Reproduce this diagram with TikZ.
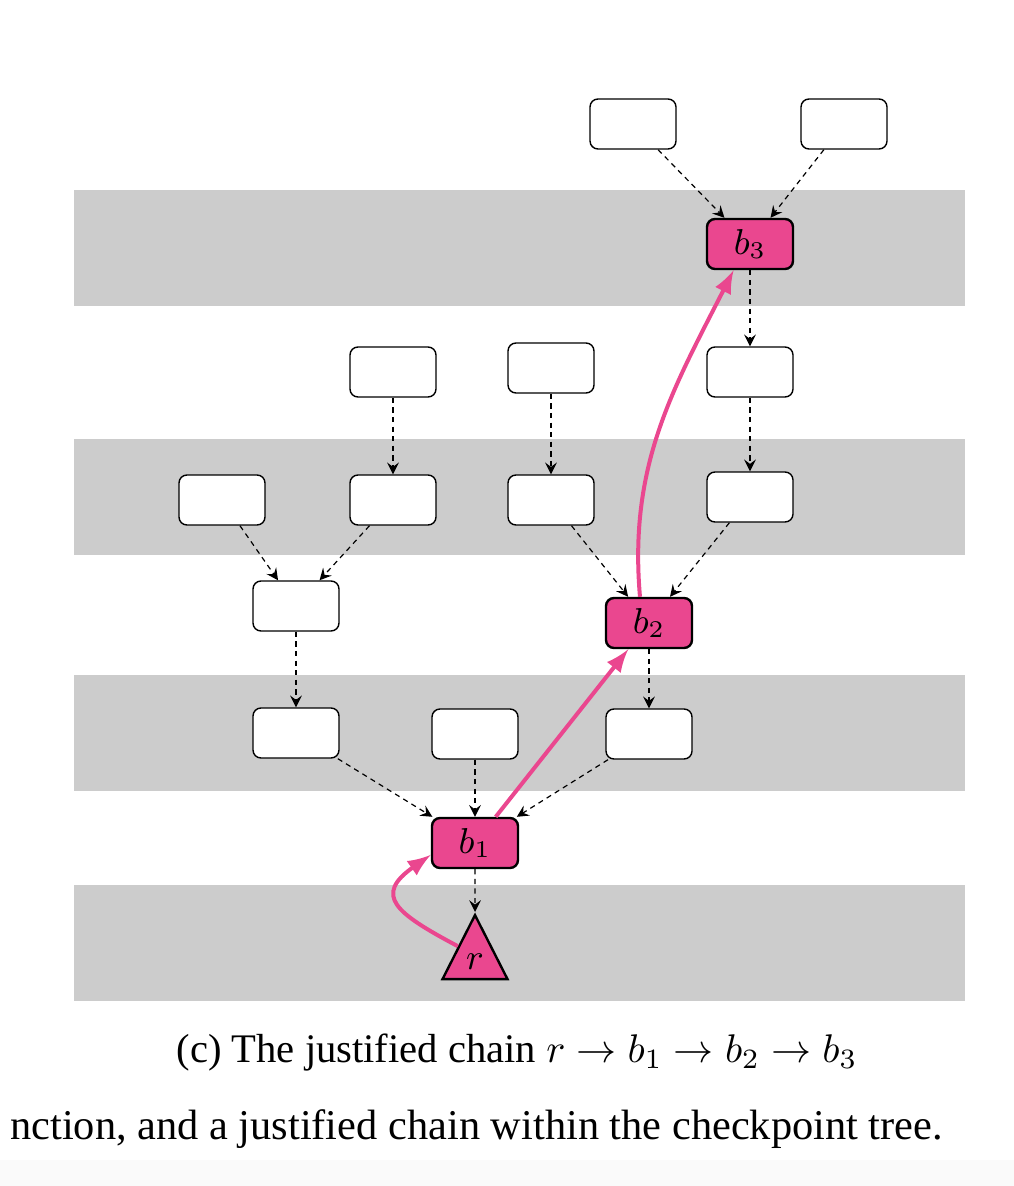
\documentclass[tikz,border=0pt]{standalone}
\usepackage{fontspec}
\setmainfont{Liberation Serif}
\usetikzlibrary{shapes.geometric}
\definecolor{chainpink}{RGB}{234,71,143}
\definecolor{bandgray}{RGB}{204,204,204}
\definecolor{pagegray}{RGB}{250,250,250}

\begin{document}
\begin{tikzpicture}[x=0.25pt, y=-0.25pt, >=stealth,
	block/.style={draw, rounded corners=2pt, fill=white, minimum width=21.5pt, minimum height=12.5pt, inner sep=0pt, line width=0.35pt, font=\fontsize{9}{10}\selectfont},
	chosen/.style={block, fill=chainpink, line width=0.6pt},
	link/.style={->, line width=0.3pt, dash pattern=on 1.3pt off 1.1pt},
	chain/.style={-latex, chainpink, line width=1pt}]
	\useasboundingbox (0, 0) rectangle (1014, 1186);
	\fill[pagegray] (0, 1160) rectangle (1014, 1186);

	\foreach \y in {190, 439, 675, 885}
		\fill[bandgray] (74, \y) rectangle (965, \y+116);

	\node[block] (t1) at (633, 124) {};
	\node[block] (t2) at (844, 124) {};
	\node[chosen] (b3) at (750, 244) {$b_3$};

	\node[block] (u1) at (393, 372) {};
	\node[block] (u2) at (551, 368) {};
	\node[block] (u3) at (750, 372) {};

	\node[block] (v1) at (222, 500) {};
	\node[block] (v2) at (393, 500) {};
	\node[block] (v3) at (551, 500) {};
	\node[block] (v4) at (750, 497) {};

	\node[block] (w1) at (296, 606) {};
	\node[chosen] (b2) at (649, 623) {$b_2$};

	\node[block] (x1) at (296, 733) {};
	\node[block] (x2) at (475, 734) {};
	\node[block] (x3) at (649, 734) {};

	\node[chosen] (b1) at (475, 843) {$b_1$};
	\node[draw, fill=chainpink, isosceles triangle, isosceles triangle stretches, shape border rotate=90,
		minimum width=16.25pt, minimum height=16pt, inner sep=0pt, line width=0.6pt,
		anchor=apex, font=\fontsize{9}{10}\selectfont] (r) at (475, 912) {$r$};

	\foreach \from/\to in {t1/b3, t2/b3, b3/u3, u1/v2, u2/v3, u3/v4, v1/w1, v2/w1, v3/b2, v4/b2, w1/x1, b2/x3, x1/b1, x2/b1, x3/b1, b1/r}
		\draw[link] (\from) -- (\to);

	\draw[chain] (r.left side) to[out=152, in=215, looseness=1.9] (b1.195);
	\draw[chain] (b1) -- (b2);
	\draw[chain] (b2.109) to[out=95, in=243] (b3.238);

	\node[anchor=base, font=\fontsize{10.15}{12}\selectfont] (caption) at (517, 1062) {(c) The justified chain $r \to b_1 \to b_2 \to b_3$};
	\node[anchor=base east, font=\fontsize{10.6}{13}\selectfont] (note) at (957, 1139) {nction, and a justified chain within the checkpoint tree.};
\end{tikzpicture}
\end{document}
